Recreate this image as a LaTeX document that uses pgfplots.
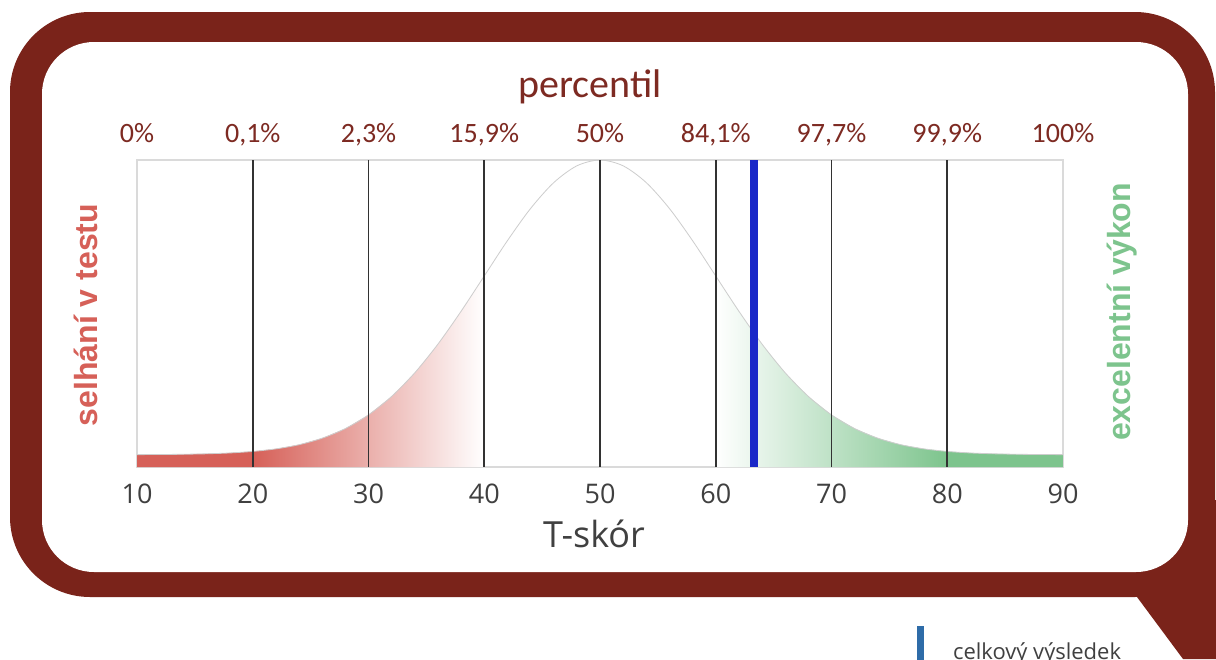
\documentclass[border=0pt]{standalone}
\usepackage{fontspec}
\setmainfont{Open Sans}
\newfontfamily\carlito{Carlito}
\newfontfamily\arialf{Liberation Sans}
\usepackage{pgfplots}
\usepackage{pgfplotstable}
\pgfplotsset{compat=1.18}

\definecolor{framered}{RGB}{122,35,26}
\definecolor{pctred}{RGB}{125,42,34}
\definecolor{failred}{RGB}{214,96,88}
\definecolor{okgreen}{RGB}{125,196,141}
\definecolor{boxgray}{RGB}{218,218,218}
\definecolor{curvegray}{RGB}{205,205,205}
\definecolor{gridline}{RGB}{50,50,50}
\definecolor{scoreblue}{RGB}{26,40,200}
\definecolor{legblue}{RGB}{46,108,168}
\definecolor{labgray}{RGB}{64,64,64}

% path bbox maps to 25bp..75bp of the shading
\pgfdeclarehorizontalshading{redfade}{100bp}{color(0bp)=(failred); color(41.7bp)=(failred); color(75bp)=(white); color(100bp)=(white)}
\pgfdeclarehorizontalshading{greenfade}{100bp}{color(0bp)=(white); color(25bp)=(white); color(58.3bp)=(okgreen); color(100bp)=(okgreen)}

% density curve (T-score, peak scaled to 1)
\pgfplotstableread{
x y
10 0.0403
12 0.0407
14 0.0415
16 0.0430
18 0.0457
20 0.0507
22 0.0590
24 0.0726
26 0.0939
28 0.1253
30 0.1699
32 0.2300
34 0.3069
36 0.4003
38 0.5073
40 0.6222
42 0.7371
44 0.8419
46 0.9262
48 0.9810
50 1.0000
52 0.9810
54 0.9262
56 0.8419
58 0.7371
60 0.6222
62 0.5073
64 0.4003
66 0.3069
68 0.2300
70 0.1699
72 0.1253
74 0.0939
76 0.0726
78 0.0590
80 0.0507
82 0.0457
84 0.0430
86 0.0415
88 0.0407
90 0.0403
}\curve

\begin{document}
\begin{tikzpicture}
\path[use as bounding box] (0,0) rectangle (1216pt,-659pt);
\clip (0,0) rectangle (1216pt,-659pt);

\begin{scope}[x=1pt,y=-1pt]
  \fill[framered, rounded corners=80pt] (10,12) rectangle (1215,597);
  \fill[framered] (1120,590) -- (1137,597) -- (1183,659) -- (1216,659) -- (1216,500) -- (1190,500) -- cycle;
  \fill[white, rounded corners=52pt] (42,42) rectangle (1188,572);
  \node[rotate=90, anchor=base, text=failred, font=\arialf\bfseries\fontsize{32}{32}\selectfont] at (97,315) {selhání v testu};
  \node[rotate=90, anchor=base, text=okgreen, font=\arialf\bfseries\fontsize{32}{32}\selectfont] at (1130,312) {excelentní výkon};
\end{scope}

\begin{axis}[
    at={(137pt,-467pt)}, anchor=south west,
    scale only axis, width=926pt, height=307pt,
    xmin=10, xmax=90, ymin=0, ymax=1,
    xtick={10,20,...,90}, ytick=\empty,
    xtick style={draw=none},
    axis line style={draw=boxgray, line width=1.2pt},
    /pgf/number format/assume math mode=true,
    xticklabel style={anchor=base, yshift=-36pt, text=labgray, font=\fontsize{27}{27}\selectfont},
    xlabel={T-skór},
    xlabel style={at={(axis description cs:0.4935,0)}, anchor=base, yshift=-80pt, text=labgray, font=\fontsize{36}{36}\selectfont},
  ]
  \addplot[draw=none, shade, shading=redfade, restrict x to domain=10:40] table {\curve} \closedcycle;
  \addplot[draw=none, shade, shading=greenfade, restrict x to domain=60:90] table {\curve} \closedcycle;
  \addplot[curvegray, line width=0.8pt, smooth, no marks] table {\curve};
  \addplot[ycomb, gridline, line width=1.6pt, no marks] coordinates {(20,1) (30,1) (40,1) (50,1) (60,1) (70,1) (80,1)};
  \addplot[ycomb, scoreblue, line width=7.5pt, no marks] coordinates {(63.3,1)};
\end{axis}

\begin{axis}[
    at={(137pt,-467pt)}, anchor=south west,
    scale only axis, width=926pt, height=307pt,
    xmin=10, xmax=90, ymin=0, ymax=1,
    axis x line*=top, hide y axis,
    axis line style={draw=none},
    xtick={10,20,...,90},
    xticklabels={0\%,{0,1\%},{2,3\%},{15,9\%},50\%,{84,1\%},{97,7\%},{99,9\%},100\%},
    xtick style={draw=none},
    xticklabel style={anchor=base, yshift=18pt, text=pctred, font=\carlito\fontsize{28}{28}\selectfont},
    xlabel={percentil},
    xlabel style={at={(axis description cs:0.489,1)}, anchor=base, yshift=63pt, text=pctred, font=\carlito\fontsize{40}{40}\selectfont},
    legend style={at={(axis description cs:0.842,-0.518)}, anchor=north west,
      draw=none, fill=none, inner sep=0pt, outer sep=0pt,
      text=labgray, font=\fontsize{22}{22}\selectfont,
      nodes={inner sep=0pt},
      /tikz/every odd column/.append style={column sep=30pt}},
    legend cell align=left,
  ]
  \addlegendimage{legend image code/.code={\fill[legblue] (0pt,-14pt) rectangle (6pt,26pt);}}
  \addlegendentry{celkový výsledek}
\end{axis}
\end{tikzpicture}
\end{document}
